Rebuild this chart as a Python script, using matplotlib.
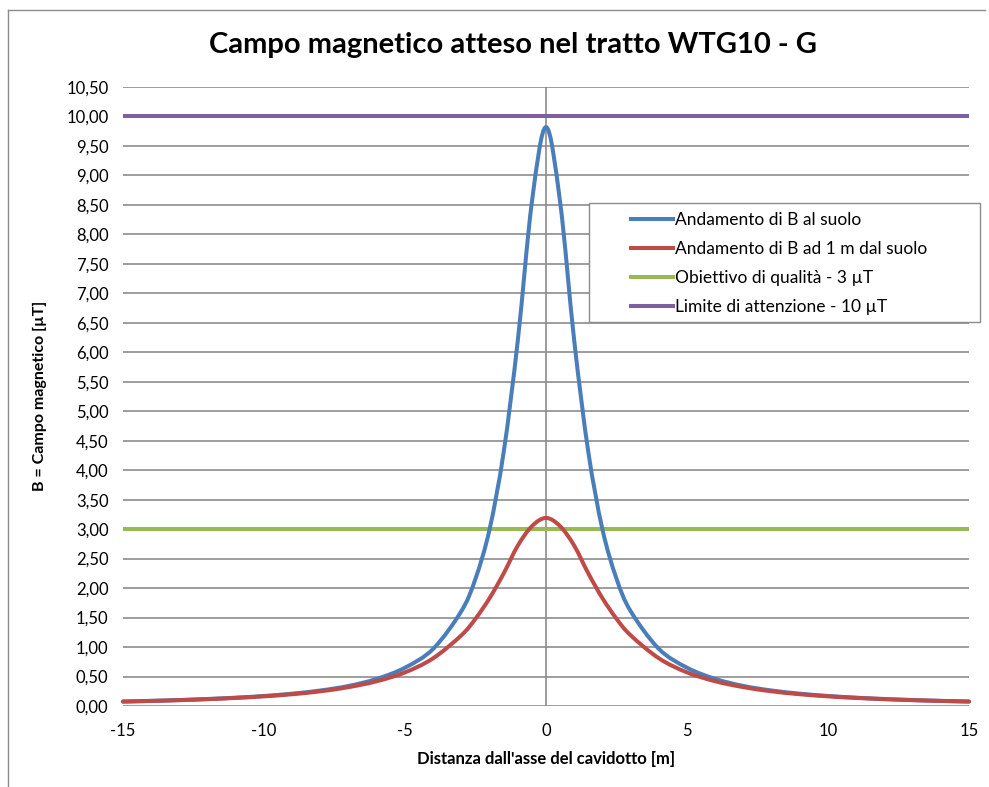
import matplotlib
matplotlib.use("Agg")
import matplotlib.pyplot as plt
import numpy as np
from matplotlib.path import Path
from matplotlib.patches import PathPatch, Rectangle
from matplotlib.lines import Line2D
from matplotlib.ticker import FuncFormatter, MultipleLocator

# ---- data ----
distance = [-15, -14, -13, -12, -11, -10, -9, -8, -7, -6, -5, -4, -3, -2.5, -2, -1.5,
            -1, -0.5, 0, 0.5, 1, 1.5, 2, 2.5, 3, 4, 5, 6, 7, 8, 9, 10, 11, 12, 13, 14, 15]
b_half = [9.82, 8.55, 6.20, 4.31, 3.00, 2.16, 1.61, 0.97, 0.65, 0.46, 0.34, 0.263,
          0.209, 0.170, 0.141, 0.119, 0.101, 0.087, 0.076]
b_ground = b_half[:0:-1] + b_half
r_half = [3.19, 3.05, 2.72, 2.25, 1.83, 1.48, 1.20, 0.81, 0.57, 0.42, 0.32, 0.249,
          0.200, 0.164, 0.137, 0.116, 0.099, 0.086, 0.075]
b_1m = r_half[:0:-1] + r_half
quality_target = 3.0
attention_limit = 10.0

series_labels = ["Andamento di B al suolo",
                 "Andamento di B ad 1 m dal suolo",
                 "Obiettivo di qualità - 3 µT",
                 "Limite di attenzione - 10 µT"]
title = "Campo magnetico atteso nel tratto WTG10 - G"
xlabel = "Distanza dall'asse del cavidotto [m]"
ylabel = "B = Campo magnetico [µT]"

C_BLUE = "#4A7EBB"
C_RED = "#BE4B48"
C_GREEN = "#98B954"
C_PURPLE = "#7D60A0"
C_GRID = "#8C8C8C"

FONT = ["Lato", "DejaVu Sans"]
plt.rcParams["font.family"] = FONT

W, H = 989, 787
fig = plt.figure(figsize=(W / 100, H / 100), dpi=100)
ax = fig.add_axes([123 / W, 1 - 706 / H, (969 - 123) / W, (706 - 87) / H])

ax.set_xlim(-15, 15)
ax.set_ylim(0, 10.5)
ax.yaxis.set_major_locator(MultipleLocator(0.5))
ax.xaxis.set_major_locator(MultipleLocator(5))
ax.yaxis.set_major_formatter(FuncFormatter(lambda v, p: f"{v:.2f}".replace(".", ",")))
ax.xaxis.set_major_formatter(FuncFormatter(lambda v, p: f"{int(round(v))}"))
ax.tick_params(length=0, labelsize=12)
ax.tick_params(axis="y", pad=10.5)
ax.tick_params(axis="x", pad=12)
for s in ax.spines.values():
    s.set_visible(False)
ax.grid(axis="y", color=C_GRID, linewidth=1.2)
ax.set_axisbelow(True)
ax.axvline(0, color=C_GRID, linewidth=1.2, zorder=1)

LW = 2.9


def smooth_path(xs, ys):
    pts = np.column_stack([np.asarray(xs, float), np.asarray(ys, float)])
    verts = [pts[0]]
    codes = [Path.MOVETO]
    n = len(pts)
    for i in range(n - 1):
        p0 = pts[i - 1] if i > 0 else pts[i]
        p1 = pts[i]
        p2 = pts[i + 1]
        p3 = pts[i + 2] if i + 2 < n else pts[i + 1]
        c1 = p1 + (p2 - p0) / 6.0
        c2 = p2 - (p3 - p1) / 6.0
        verts += [c1, c2, p2]
        codes += [Path.CURVE4] * 3
    return Path(verts, codes)


for ys, col in [(b_ground, C_BLUE), (b_1m, C_RED)]:
    patch = PathPatch(smooth_path(distance, ys), facecolor="none", edgecolor=col,
                      linewidth=LW, capstyle="round", joinstyle="round",
                      transform=ax.transData, zorder=4, clip_on=False)
    ax.add_patch(patch)

ax.plot([-15, 15], [quality_target] * 2, color=C_GREEN, linewidth=LW, zorder=3,
        solid_capstyle="butt")
ax.plot([-15, 15], [attention_limit] * 2, color=C_PURPLE, linewidth=LW, zorder=3,
        solid_capstyle="butt")

# legend box
fig.add_artist(Rectangle((589 / W, 1 - 322 / H), (980 - 589) / W, (322 - 203) / H,
                         transform=fig.transFigure, facecolor="white",
                         edgecolor="#8C8C8C", linewidth=1.0, zorder=5))
handles = [Line2D([], [], color=c, linewidth=LW) for c in (C_BLUE, C_RED, C_GREEN, C_PURPLE)]
leg = fig.legend(handles, series_labels, loc="upper left",
                 bbox_to_anchor=(626 / W, 1 - 207 / H), frameon=False,
                 fontsize=12.5, handlelength=2.4, handletextpad=0.15,
                 labelspacing=0.75, borderpad=0.3, borderaxespad=0)
leg.set_zorder(6)

fig.text(513 / W, 1 - 45 / H, title, ha="center", va="center",
         fontsize=21, fontweight="bold")
fig.text(546 / W, 1 - 759 / H, xlabel, ha="center", va="center",
         fontsize=12, fontweight="bold")
fig.text(40 / W, 1 - 396 / H, ylabel, ha="center", va="center",
         fontsize=11.5, fontweight="bold", rotation=90)

# outer chart border (left and top visible)
fig.add_artist(Line2D([8 / W, 8 / W], [0, 1 - 10 / H], transform=fig.transFigure,
                      color="#8C8C8C", linewidth=1.0))
fig.add_artist(Line2D([8 / W, 985 / W], [1 - 10 / H, 1 - 10 / H],
                      transform=fig.transFigure, color="#8C8C8C", linewidth=1.0))

fig.savefig("out.png", dpi=100)
